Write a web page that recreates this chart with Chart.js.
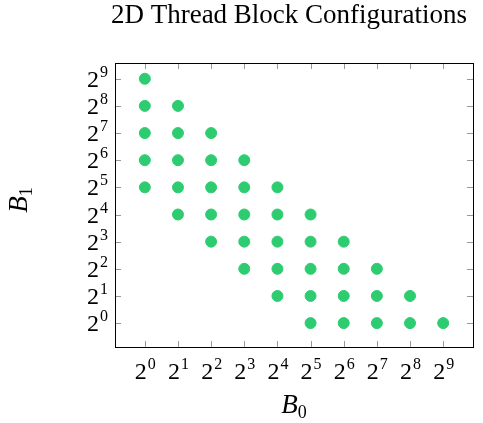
<!DOCTYPE html>
<html>
<head>
<meta charset="utf-8">
<script src="https://cdn.jsdelivr.net/npm/chart.js@4"></script>
<style>
  body { margin: 0; background: #fff; }
  #wrap { width: 483px; height: 423px; }
</style>
</head>
<body>
<div id="wrap"><canvas id="myChart"></canvas></div>
<script>
// exponents of the block sizes (B0 = 2^x, B1 = 2^y)
const b0Exp = [0,0,0,0,0, 1,1,1,1,1, 2,2,2,2,2, 3,3,3,3,3, 4,4,4,4,4, 5,5,5,5,5, 6,6,6,6, 7,7,7, 8,8, 9];
const b1Exp = [5,6,7,8,9, 4,5,6,7,8, 3,4,5,6,7, 2,3,4,5,6, 1,2,3,4,5, 0,1,2,3,4, 0,1,2,3, 0,1,2, 0,1, 0];
const tickExp = [0,1,2,3,4,5,6,7,8,9];
const titre = "2D Thread Block Configurations";

const points = b0Exp.map((x, i) => ({ x: x, y: b1Exp[i] }));

const serif = "'Liberation Serif', 'DejaVu Serif', serif";

// draw "2^k" with a raised exponent
function powerLabel(ctx, k, x, y, align) {
  ctx.font = "24px " + serif;
  const wBase = ctx.measureText("2").width;
  ctx.font = "16px " + serif;
  const wExp = ctx.measureText(String(k)).width;
  let left = x;
  if (align === "center") left = x - (wBase + wExp) / 2;
  if (align === "right") left = x - (wBase + wExp);
  ctx.textAlign = "left";
  ctx.textBaseline = "alphabetic";
  ctx.font = "24px " + serif;
  ctx.fillText("2", left, y);
  ctx.font = "16px " + serif;
  ctx.fillText(String(k), left + wBase + 1, y - 10);
}

const cadre = {
  id: "cadre",
  afterDraw(chart) {
    const ctx = chart.ctx;
    const a = chart.chartArea;
    const sx = chart.scales.x, sy = chart.scales.y;
    ctx.save();
    // inward ticks on all four sides
    ctx.strokeStyle = "#999";
    ctx.lineWidth = 1;
    tickExp.forEach((k) => {
      const px = Math.round(sx.getPixelForValue(k)) + 0.5;
      const py = Math.round(sy.getPixelForValue(k)) + 0.5;
      ctx.beginPath();
      ctx.moveTo(px, a.bottom); ctx.lineTo(px, a.bottom - 6);
      ctx.moveTo(px, a.top); ctx.lineTo(px, a.top + 6);
      ctx.moveTo(a.left, py); ctx.lineTo(a.left + 6, py);
      ctx.moveTo(a.right, py); ctx.lineTo(a.right - 6, py);
      ctx.stroke();
    });
    ctx.strokeStyle = "#000";
    ctx.strokeRect(Math.round(a.left) + 0.5, Math.round(a.top) + 0.5,
      Math.round(a.right - a.left), Math.round(a.bottom - a.top));

    ctx.fillStyle = "#000";
    tickExp.forEach((k) => {
      powerLabel(ctx, k, sx.getPixelForValue(k), a.bottom + 32, "center");
      powerLabel(ctx, k, a.left - 8, sy.getPixelForValue(k) + 8, "right");
    });

    // title
    ctx.font = "27px " + serif;
    ctx.textAlign = "center";
    ctx.textBaseline = "alphabetic";
    ctx.fillText(titre, 289, 23);

    // axis labels B_0 and B_1
    function axisName(sub, x, y) {
      ctx.font = "italic 27px " + serif;
      const w = ctx.measureText("B").width;
      ctx.font = "18px " + serif;
      const ws = ctx.measureText(sub).width;
      const left = x - (w + ws) / 2;
      ctx.textAlign = "left";
      ctx.font = "italic 27px " + serif;
      ctx.fillText("B", left, y);
      ctx.font = "18px " + serif;
      ctx.fillText(sub, left + w, y + 5);
    }
    axisName("0", (a.left + a.right) / 2, 413);
    ctx.translate(27, 200);
    ctx.rotate(-Math.PI / 2);
    axisName("1", 0, 0);
    ctx.restore();
  }
};

const config = {
  type: "scatter",
  data: {
    datasets: [{
      data: points,
      backgroundColor: "#2ecc71",
      borderColor: "#2ecc71",
      pointRadius: 5.5,
      pointHoverRadius: 5.5,
    }],
  },
  options: {
    responsive: true,
    maintainAspectRatio: false,
    animation: false,
    layout: { padding: { left: 115, right: 10, top: 63, bottom: 76 } },
    plugins: { legend: false, tooltip: { enabled: false } },
    scales: {
      x: {
        min: -0.9, max: 9.9,
        display: false,
      },
      y: {
        min: -0.88, max: 9.58,
        display: false,
      },
    },
  },
  plugins: [cadre],
};

chart = new Chart(document.getElementById("myChart").getContext("2d"), config);
</script>
</body>
</html>
